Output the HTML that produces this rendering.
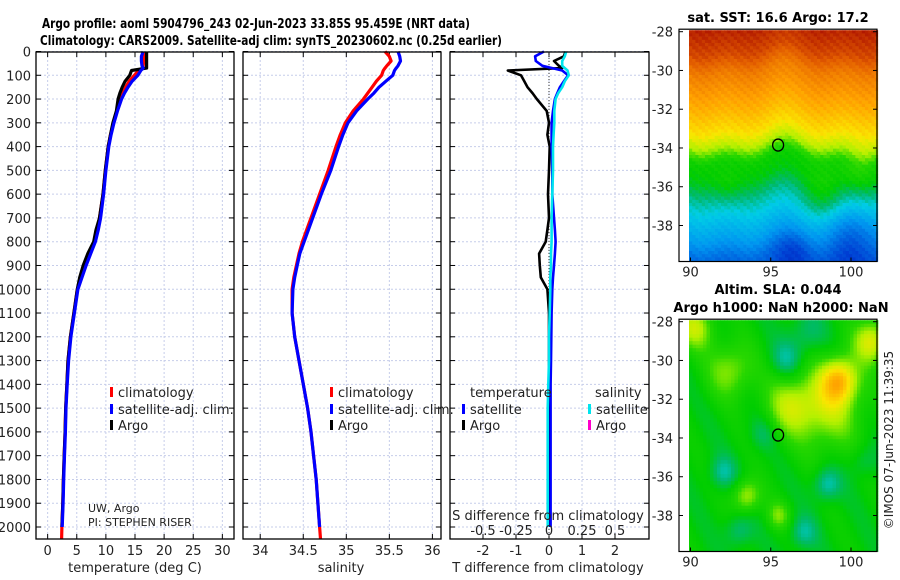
<!DOCTYPE html>
<html><head><meta charset="utf-8"><style>
html,body{margin:0;padding:0;background:#fff;width:900px;height:580px;overflow:hidden}
svg{display:block;font-family:"DejaVu Sans","Liberation Sans",sans-serif}
</style></head><body>
<svg id="fig" width="900" height="580" viewBox="0 0 900 580" xmlns="http://www.w3.org/2000/svg">
<text x="42" y="28" font-size="13" font-weight="bold" textLength="428" lengthAdjust="spacingAndGlyphs">Argo profile: aoml 5904796_243 02-Jun-2023 33.85S 95.459E (NRT data)</text>
<text x="40" y="45" font-size="13" font-weight="bold" textLength="462" lengthAdjust="spacingAndGlyphs">Climatology: CARS2009. Satellite-adj clim: synTS_20230602.nc (0.25d earlier)</text>
<text x="778" y="22" font-size="13" font-weight="bold" text-anchor="middle">sat. SST: 16.6 Argo: 17.2</text>
<text x="778" y="294" font-size="13" font-weight="bold" text-anchor="middle">Altim. SLA: 0.044</text>
<text x="781" y="312" font-size="13" font-weight="bold" text-anchor="middle">Argo h1000: NaN h2000: NaN</text>
<text transform="translate(893,440) rotate(-90)" font-size="12" text-anchor="middle" fill="#222">©IMOS 07-Jun-2023 11:39:35</text>
<g id="g"></g>
</svg>
<script>
// ---- data ----
const depths = [0,20,40,60,70,80,100,125,150,175,200,250,300,350,400,500,600,700,750,800,850,900,950,1000,1100,1200,1300,1400,1500,1600,1700,1800,1900,2000,2050];
const climT = [16.5,16.5,16.5,16.4,16.3,15.6,14.9,14.0,13.4,12.9,12.5,11.9,11.3,10.8,10.4,9.9,9.5,8.9,8.5,8.0,7.2,6.4,5.7,5.1,4.5,3.9,3.5,3.3,3.1,3.0,2.85,2.7,2.6,2.45,2.4];
const satT = [16.4,16.1,16.1,16.2,16.4,16.0,15.5,14.5,13.8,13.2,12.7,12.0,11.4,10.9,10.5,10.0,9.6,9.1,8.7,8.2,7.4,6.6,5.9,5.2,4.6,4.0,3.6,3.35,3.15,3.05,2.9,2.75,2.65,2.5,null];
const argoT = [17.0,17.0,17.0,17.0,17.0,14.4,14.1,13.3,12.8,12.4,12.1,11.8,11.2,10.8,10.4,9.9,9.5,8.9,8.3,7.9,6.9,6.1,5.5,5.1,4.5,3.9,3.5,3.3,3.1,3.0,2.85,2.7,2.6,2.45,null];
const climS = [35.45,35.5,35.52,35.47,35.45,35.43,35.41,35.35,35.3,35.25,35.2,35.08,34.99,34.93,34.88,34.79,34.69,34.59,34.54,34.49,34.45,34.42,34.39,34.37,34.37,34.4,34.45,34.5,34.55,34.59,34.62,34.65,34.67,34.69,34.7];
const satS = [35.6,35.62,35.63,35.6,35.58,35.56,35.54,35.46,35.38,35.32,35.25,35.12,35.02,34.96,34.91,34.82,34.71,34.61,34.56,34.51,34.46,34.43,34.4,34.38,34.37,34.4,34.45,34.5,34.55,34.59,34.62,34.65,34.67,34.69,null];
const satTdiff = [-0.15,-0.42,-0.4,-0.2,0.1,0.4,0.58,0.45,0.33,0.25,0.18,0.12,0.08,0.08,0.08,0.1,0.1,0.15,0.18,0.2,0.18,0.15,0.12,0.1,0.08,0.07,0.06,0.05,0.05,0.05,0.05,0.05,0.05,0.05,null];
const argoTdiff = [0.5,0.45,0.15,0.3,0.4,-1.25,-0.85,-0.75,-0.65,-0.5,-0.37,-0.07,0,-0.05,0.02,0,-0.03,0,-0.05,-0.1,-0.3,-0.28,-0.25,-0.05,0,0,0,0,0,0,0,0,0,0,null];
const satSdiff = [0.13,0.12,0.1,0.1,0.12,0.14,0.15,0.12,0.1,0.07,0.05,0.04,0.04,0.035,0.03,0.03,0.025,0.02,0.02,0.02,0.015,0.015,0.01,0.01,0.005,0,0,-0.005,-0.01,-0.01,-0.01,-0.01,-0.01,-0.01,null];
const depthTicks = [0,100,200,300,400,500,600,700,800,900,1000,1100,1200,1300,1400,1500,1600,1700,1800,1900,2000];
const tempTicks = [0,5,10,15,20,25,30];
const salTicks = [34,34.5,35,35.5,36];
const salTickLabels = ['34','34.5','35','35.5','36'];
const tdiffTicks = [-2,-1,0,1,2];
const sdiffTicks = [-0.5,-0.25,0,0.25,0.5];
const sdiffLabels = ['-0.5','-0.25','0','0.25','0.5'];
const latTicks = [-28,-30,-32,-34,-36,-38];
const lonTicks = [90,95,100];
const floatLon = 95.459, floatLat = -33.85;
// SST meridional profile (lat -> colour index)
const sstLat = [-27.5,-29,-30,-31,-32,-33,-33.8,-34.6,-35.5,-36.5,-37.5,-38.5,-39.5,-40.5];
const sstIdx = [0.97,0.92,0.85,0.81,0.77,0.72,0.64,0.52,0.49,0.42,0.36,0.3,0.22,0.18];
// SST local anomalies: lon, lat, amplitude, radius
const sstBlobLon = [100.2,98.3,92.3,96.5,100.5];
const sstBlobLat = [-38.6,-36.5,-36.0,-39.3,-35.0];
const sstBlobAmp = [-0.1,0.06,0.04,-0.06,0.05];
const sstBlobRad = [1.2,0.9,0.6,0.8,0.7];
// SLA anomaly blobs: lon, lat, amplitude, radius(deg)
const slaBlobLon = [99.3,98.5,92.5,90.3,101.3,96.2,93.5,98.5,92.0,97.0,96.0,93.0,97.2,100.8,94.5,95.5];
const slaBlobLat = [-31.0,-32.5,-30.5,-28.3,-29.0,-32.3,-37.0,-36.4,-35.8,-38.9,-30.0,-38.8,-28.6,-35.2,-33.8,-38.0];
const slaBlobAmp = [0.22,0.14,0.12,0.15,0.18,0.12,0.14,-0.1,-0.08,-0.08,-0.08,-0.07,-0.06,-0.05,-0.05,0.1];
const slaBlobRad = [0.8,1.5,1.0,0.8,0.8,1.1,0.6,0.6,0.6,0.6,0.7,0.6,0.8,0.6,0.6,0.5];

// ---- helpers ----
const NS='http://www.w3.org/2000/svg';
const G=document.getElementById('g');
function mk(tag,attrs,parent){const e=document.createElementNS(NS,tag);for(const k in attrs)e.setAttribute(k,attrs[k]);(parent||G).appendChild(e);return e;}
const yTop=51.5, yPer=(527-51.5)/2000;
const yD=d=>yTop+d*yPer;
function lin(d0,d1,r0,r1){return v=>r0+(v-d0)*(r1-r0)/(d1-d0);}
const panels=[{x0:36,x1:234,name:'temperature-panel'},{x0:243,x1:441,name:'salinity-panel'},{x0:450,x1:649,name:'difference-panel'}];
const xT=lin(-2,32,36,234), xS=lin(33.8,36.1,243,441), xTd=lin(-3,3,450,648), xSd=lin(-0.75,0.75,450,648);
const PB=539;

function frame(p,xticks){
  const bg=mk('g',{});
  
  
  depthTicks.forEach(d=>{mk('line',{x1:p.x0,x2:p.x1,y1:yD(d),y2:yD(d),stroke:'#c6cdea','stroke-width':1,'stroke-dasharray':'2,2'},bg);
    mk('line',{x1:p.x0,x2:p.x0+5,y1:yD(d),y2:yD(d),stroke:'#000'},bg);mk('line',{x1:p.x1-5,x2:p.x1,y1:yD(d),y2:yD(d),stroke:'#000'},bg);});
  xticks.forEach(x=>{mk('line',{x1:x,x2:x,y1:52,y2:PB,stroke:'#c6cdea','stroke-width':1,'stroke-dasharray':'2,2'},bg);
    mk('line',{x1:x,x2:x,y1:52,y2:57,stroke:'#000'},bg);mk('line',{x1:x,x2:x,y1:PB-5,y2:PB,stroke:'#000'},bg);});
  return bg;
}
function frameBox(p){const r=mk('rect',{x:p.x0,y:52,width:p.x1-p.x0,height:PB-52,fill:'none',stroke:'#000','stroke-width':1.3});
  
  }
function line(xs,xf,color,w,name){let d='';let pen=false;
  for(let i=0;i<depths.length;i++){if(xs[i]==null){pen=false;continue;}d+=(pen?'L':'M')+xf(xs[i]).toFixed(1)+','+yD(depths[i]).toFixed(1);pen=true;}
  const p=mk('path',{d:d,fill:'none',stroke:color,'stroke-width':w,'stroke-linejoin':'round'});
  
  }
function txt(x,y,s,opts,name){const t=mk('text',Object.assign({x:x,y:y,'font-size':13,fill:'#222'},opts||{}));t.textContent=s;
  
  return t;}
function legend(x,y,color,label,name){mk('rect',{x:x,y:y-10,width:3,height:10,fill:color});txt(x+8,y,label,{},name);}

// panel 1
frame(panels[0],tempTicks.map(xT));
line(climT,xT,'#ff0000',3.2,'climatology-temperature-line');
line(argoT,xT,'#000',3.2,'argo-temperature-line');
line(satT,xT,'#0000ff',3.2,'satellite-temperature-line');
frameBox(panels[0]);
depthTicks.forEach(d=>txt(31,yD(d)+5,String(d),{'text-anchor':'end'},'depth-tick-label'));
tempTicks.forEach(t=>txt(xT(t),555,String(t),{'text-anchor':'middle'},'temperature-tick-label'));
txt(135,572,'temperature (deg C)',{'text-anchor':'middle'},'temperature-axis-title');
legend(110,397,'#ff0000','climatology','legend-climatology');
legend(110,414,'#0000ff','satellite-adj. clim.','legend-satellite-adj');
legend(110,430,'#000','Argo','legend-argo');
txt(88,512,'UW, Argo',{'font-size':11},'institution-label');
txt(88,526,'PI: STEPHEN RISER',{'font-size':11},'pi-label');

// panel 2
frame(panels[1],salTicks.map(xS));
line(climS,xS,'#ff0000',3.2,'climatology-salinity-line');
line(satS,xS,'#0000ff',3.2,'satellite-salinity-line');
frameBox(panels[1]);
salTicks.forEach((s,i)=>txt(xS(s),555,salTickLabels[i],{'text-anchor':'middle'},'salinity-tick-label'));
txt(341,572,'salinity',{'text-anchor':'middle'},'salinity-axis-title');
legend(330,397,'#ff0000','climatology','legend-climatology-s');
legend(330,414,'#0000ff','satellite-adj. clim.','legend-satellite-adj-s');
legend(330,430,'#000','Argo','legend-argo-s');

// panel 3
frame(panels[2],tdiffTicks.map(xTd));
mk('line',{x1:xTd(0),x2:xTd(0),y1:52,y2:PB,stroke:'#333','stroke-width':1,'stroke-dasharray':'1,2'});
line(argoTdiff,xTd,'#000',2.6,'argo-temperature-difference-line');
line(satTdiff,xTd,'#0000ff',2.6,'satellite-temperature-difference-line');
line(satSdiff,xSd,'#00e5ee',2.6,'satellite-salinity-difference-line');
frameBox(panels[2]);
tdiffTicks.forEach(t=>txt(xTd(t),555,String(t),{'text-anchor':'middle'},'tdiff-tick-label'));
sdiffTicks.forEach((s,i)=>txt(xSd(s),535,sdiffLabels[i],{'text-anchor':'middle'},'sdiff-tick-label'));
txt(548,520,'S difference from climatology',{'text-anchor':'middle'},'sdiff-axis-title');
txt(548,572,'T difference from climatology',{'text-anchor':'middle'},'tdiff-axis-title');
txt(470,397,'temperature',{},'legend-temperature-header');
txt(595,397,'salinity',{},'legend-salinity-header');
legend(462,414,'#0000ff','satellite','legend-t-satellite');
legend(462,430,'#000','Argo','legend-t-argo');
legend(588,414,'#00e5ee','satellite','legend-s-satellite');
legend(588,430,'#ff00cc','Argo','legend-s-argo');

// ---- maps ----
const cmapPos=[0,0.15,0.28,0.38,0.44,0.5,0.57,0.64,0.71,0.8,0.9,1];
const cmapCol=[[0,0,140],[0,60,210],[0,150,240],[0,205,230],[0,185,110],[0,205,0],[40,215,0],[180,240,0],[250,230,0],[255,160,0],[225,90,0],[160,0,0]];
function cmap(v){v=Math.max(0,Math.min(1,v));let i=0;while(i<cmapPos.length-2&&v>cmapPos[i+1])i++;
  const f=(v-cmapPos[i])/(cmapPos[i+1]-cmapPos[i]);const a=cmapCol[i],b=cmapCol[i+1];
  return 'rgb('+a.map((c,k)=>Math.round(c+(b[k]-c)*f)).join(',')+')';}
function interp(xs,ys,x){if(x>=xs[0])return ys[0];for(let i=1;i<xs.length;i++){if(x>=xs[i]){const f=(x-xs[i-1])/(xs[i]-xs[i-1]);return ys[i-1]+f*(ys[i]-ys[i-1]);}}return ys[ys.length-1];}
function blobs(lons,lats,amps,rads,lon,lat){let v=0;for(let i=0;i<lons.length;i++){const dx=lon-lons[i],dy=lat-lats[i];v+=amps[i]*Math.exp(-(dx*dx+dy*dy)/(2*rads[i]*rads[i]));}return v;}
function drawMap(yOff,name,valFn,cell){
  const xL=lin(90,100,690.5,851), yL=lin(-28,-38,yOff,yOff+193.8);
  const mg=mk('g',{});
  
  
  const x0=689,x1=877,y0=yL(-28)-1.5,y1=yL(-38)+36;
  for(let y=y0;y<y1;y+=cell){for(let x=x0;x<x1;x+=cell){
    const lon=90+(x+cell/2-690.5)/16.05, lat=-28-(y+cell/2-yOff)/19.38;
    mk('rect',{x:x,y:y,width:cell+0.3,height:Math.min(cell,y1-y)+0.3,fill:cmap(valFn(lon,lat))},mg);}}
  mk('rect',{x:679,y:y0-1,width:198,height:y1-y0+1,fill:'none',stroke:'#000','stroke-width':1.2},mg);
  latTicks.forEach(l=>{mk('line',{x1:679,x2:683,y1:yL(l),y2:yL(l),stroke:'#000'},mg);mk('line',{x1:873,x2:877,y1:yL(l),y2:yL(l),stroke:'#000'},mg);
    txt(673,yL(l)+5,String(l),{'text-anchor':'end'},'latitude-tick-label');});
  lonTicks.forEach(l=>{mk('line',{x1:xL(l),x2:xL(l),y1:y1-4,y2:y1,stroke:'#000'},mg);
    txt(xL(l),y1+15,String(l),{'text-anchor':'middle'},'longitude-tick-label');});
  const c=mk('ellipse',{cx:xL(floatLon),cy:yL(floatLat),rx:5.5,ry:6,fill:'none',stroke:'#000','stroke-width':1.3},mg);
  
  
}
function sstVal(lon,lat){
  const wob=0.5*Math.sin((lon-90)*0.8)+0.35*Math.sin((lon-90)*1.7+1.0);
  let v=interp(sstLat,sstIdx,lat+wob*0.6);
  v+=blobs(sstBlobLon,sstBlobLat,sstBlobAmp,sstBlobRad,lon,lat);
  v+=0.012*Math.sin(lon*9.7+lat*13.1);
  return v;}
function slaVal(lon,lat){
  let v=0.5+blobs(slaBlobLon,slaBlobLat,slaBlobAmp,slaBlobRad,lon,lat);
  v+=0.02*Math.sin(lon*1.9+lat*1.1);return v;}
drawMap(31.7,'sst-map',sstVal,3.2);
drawMap(321.7,'sla-map',slaVal,3.5);
</script>
</body></html>
